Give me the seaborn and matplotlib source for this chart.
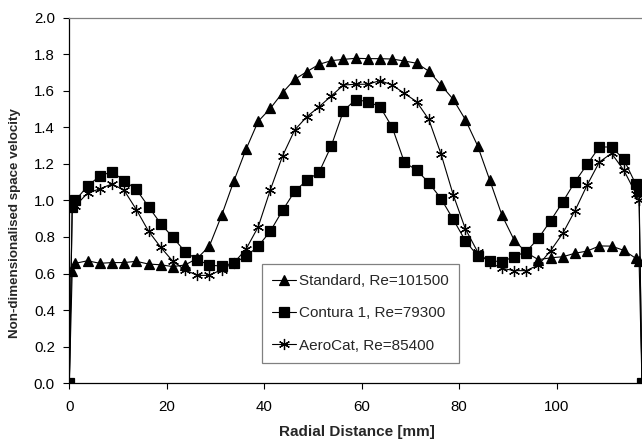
import numpy as np
import pandas as pd
import matplotlib
matplotlib.use("Agg")
import matplotlib.pyplot as plt
import seaborn as sns

# ---- data ----
radial_mm = [0, 0.6, 1.25, 3.75, 6.25, 8.75, 11.25, 13.75, 16.25, 18.75, 21.25, 23.75,
             26.25, 28.75, 31.25, 33.75, 36.25, 38.75, 41.25, 43.75, 46.25, 48.75,
             51.25, 53.75, 56.25, 58.75, 61.25, 63.75, 66.25, 68.75, 71.25, 73.75,
             76.25, 78.75, 81.25, 83.75, 86.25, 88.75, 91.25, 93.75, 96.25, 98.75,
             101.25, 103.75, 106.25, 108.75, 111.25, 113.75, 116.25, 116.9, 117.5]

standard = [0, 0.616, 0.656, 0.670, 0.656, 0.660, 0.660, 0.667, 0.652, 0.648, 0.638, 0.647,
            0.683, 0.751, 0.918, 1.105, 1.279, 1.432, 1.503, 1.589, 1.662, 1.704,
            1.744, 1.764, 1.771, 1.777, 1.775, 1.775, 1.773, 1.762, 1.750, 1.707,
            1.631, 1.553, 1.442, 1.300, 1.112, 0.920, 0.784, 0.715, 0.676, 0.686,
            0.692, 0.711, 0.723, 0.751, 0.750, 0.727, 0.683, 0.668, 0]

contura = [0, 0.966, 1.000, 1.079, 1.133, 1.157, 1.108, 1.060, 0.966, 0.873, 0.798, 0.720,
           0.676, 0.646, 0.641, 0.658, 0.694, 0.749, 0.832, 0.945, 1.050, 1.110,
           1.154, 1.298, 1.490, 1.551, 1.540, 1.512, 1.400, 1.208, 1.166, 1.097,
           1.010, 0.897, 0.780, 0.697, 0.670, 0.665, 0.692, 0.720, 0.793, 0.889,
           0.992, 1.102, 1.197, 1.292, 1.292, 1.225, 1.087, 1.050, 0]

aerocat = [0, 0.965, 0.970, 1.040, 1.063, 1.090, 1.055, 0.950, 0.832, 0.744, 0.667, 0.620,
           0.590, 0.590, 0.622, 0.658, 0.733, 0.855, 1.058, 1.243, 1.385, 1.458,
           1.512, 1.571, 1.631, 1.635, 1.635, 1.655, 1.631, 1.585, 1.540, 1.443,
           1.255, 1.032, 0.845, 0.720, 0.660, 0.629, 0.616, 0.616, 0.647, 0.725,
           0.820, 0.944, 1.084, 1.210, 1.257, 1.166, 1.037, 1.000, 0]

series_labels = ["Standard, Re=101500", "Contura 1, Re=79300", "AeroCat, Re=85400"]
x_ticks = [0, 20, 40, 60, 80, 100]
y_ticks = [0.0, 0.2, 0.4, 0.6, 0.8, 1.0, 1.2, 1.4, 1.6, 1.8, 2.0]

# ---- style ----
sns.set_theme(style="white")
plt.rcParams["font.family"] = ["Liberation Sans", "DejaVu Sans"]

fig = plt.figure(figsize=(6.42, 4.43), dpi=100)
ax = fig.add_axes([69.3 / 642, 1 - 383.3 / 443, (642 - 69.3) / 642, (383.3 - 17.5) / 443])

markers = ["^", "s", (6, 2, 0)]
sizes = [7, 6.5, 8]
for vals, lab, mk, ms in zip([standard, contura, aerocat], series_labels, markers, sizes):
    df = pd.DataFrame({"x": radial_mm, "y": vals})
    sns.lineplot(data=df, x="x", y="y", ax=ax, color="black", linewidth=0.8,
                 marker=mk, markersize=ms, markeredgecolor="black",
                 markerfacecolor="black", markeredgewidth=0.9, label=lab,
                 clip_on=True)

ax.set_xlim(0, 117.5)
ax.set_ylim(0, 2.0)
ax.set_xticks(x_ticks)
ax.set_yticks(y_ticks)
ax.set_yticklabels([f"{v:.1f}" for v in y_ticks])
ax.tick_params(axis="both", which="major", direction="out", length=4.3, width=0.8,
               color="black", labelsize=10.8, labelcolor="black", pad=6,
               bottom=True, left=True)
ax.tick_params(axis="x", pad=8)

for s in ["left", "bottom"]:
    ax.spines[s].set_color("black")
    ax.spines[s].set_linewidth(0.9)
ax.spines["top"].set_color("#808080")
ax.spines["top"].set_linewidth(0.9)
ax.spines["right"].set_visible(False)

ax.set_xlabel("Radial Distance [mm]", fontsize=11, fontweight="bold", va="top")
ax.xaxis.set_label_coords(0.502, -0.113)
ax.set_ylabel("Non-dimensionalised space velocity", fontsize=9.6, fontweight="bold")
ax.yaxis.set_label_coords(-0.084, 0.438)

leg = ax.legend(loc="upper left", bbox_to_anchor=(0.3365, 0.326), fontsize=11,
                frameon=True, fancybox=False, edgecolor="#808080", framealpha=1,
                borderpad=0.65, labelspacing=1.2, handlelength=1.6,
                handletextpad=0.2, borderaxespad=0)
leg.get_frame().set_linewidth(0.9)

fig.savefig("out.png", dpi=100)
